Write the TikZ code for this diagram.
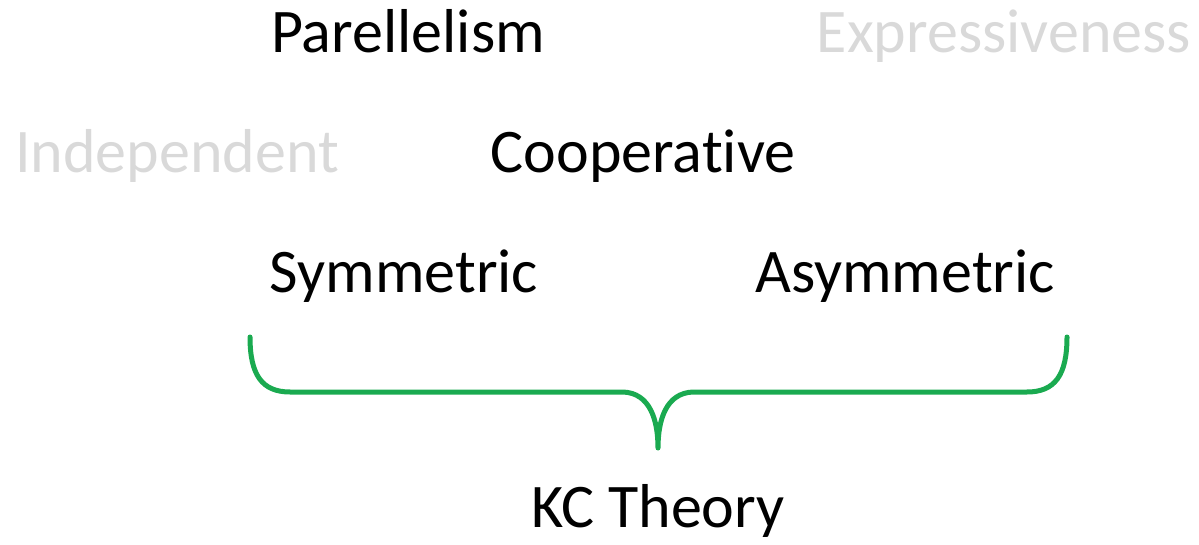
\documentclass[tikz,border=0pt]{standalone}
\usepackage{fontspec}
\setmainfont{Carlito}[Ligatures=NoCommon]
\usepackage{tikz}
\definecolor{fadegray}{RGB}{217,217,217}
\definecolor{bracegreen}{RGB}{26,170,80}

\begin{document}
\begin{tikzpicture}[x=1pt,y=-1pt,
        word/.style={anchor=base,inner sep=0pt,font=\fontsize{62}{66}\selectfont},
        faded/.style={word,text=fadegray}]
            \useasboundingbox (0,0) rectangle (1199,545);
            \node[word]  (parallel) at (408,53)  {Parellelism};
            \node[faded] (expr)     at (1004,53) {Expressiveness};
            \node[faded] (indep)    at (177,173) {Independent};
            \node[word]  (coop)     at (643,173) {Cooperative};
            \node[word]  (sym)      at (404,293) {Symmetric};
            \node[word]  (asym)     at (905,293) {Asymmetric};
            \node[word]  (kc)       at (658,527) {KC Theory};
            \draw[bracegreen, line width=5pt, line cap=round, line join=round]
                (250,337) .. controls (250,375) and (262,392) .. (290,392) -- (623,392)
                .. controls (650,393) and (658,420) .. (658,448)
                .. controls (658,420) and (666,393) .. (693,392) -- (1027,392)
                .. controls (1055,392) and (1067,375) .. (1067,337);
        \end{tikzpicture}
\end{document}
